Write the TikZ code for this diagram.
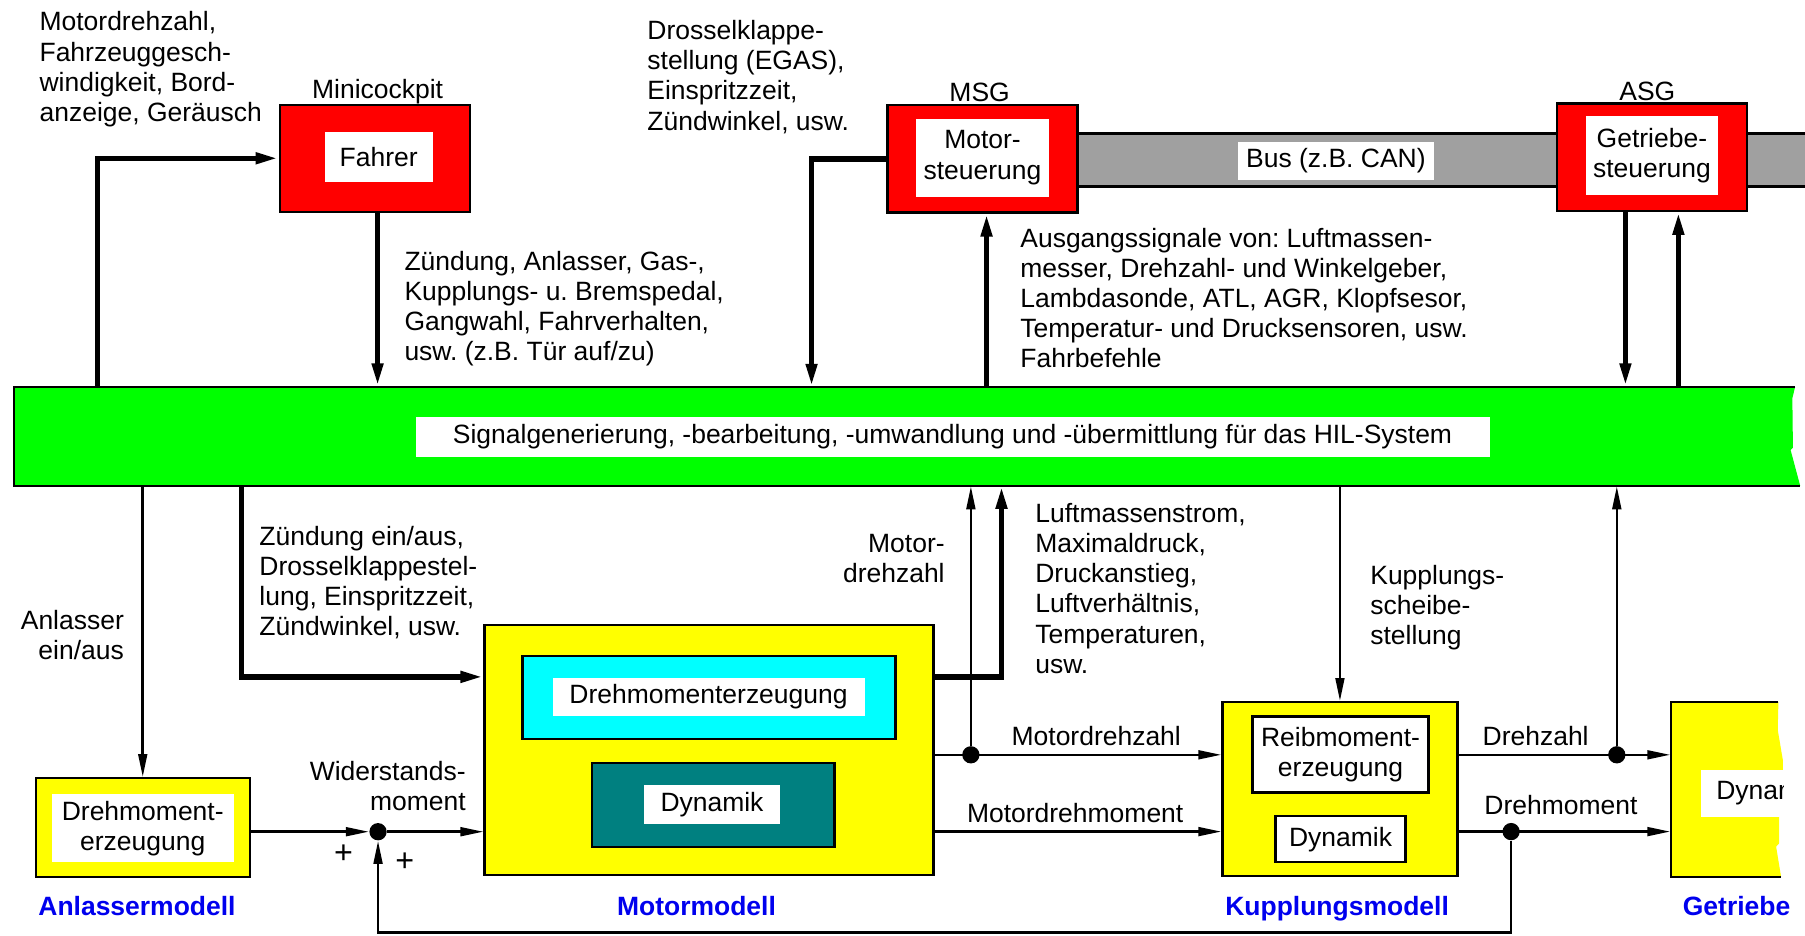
\documentclass[tikz,border=0pt]{standalone}
\usepackage{fontspec}
\setmainfont{Liberation Sans}
\usetikzlibrary{arrows.meta}
\frenchspacing

\definecolor{ctrlred}{RGB}{255,0,0}
\definecolor{modelyellow}{RGB}{255,255,0}
\definecolor{hilgreen}{RGB}{0,255,0}
\definecolor{gencyan}{RGB}{0,255,255}
\definecolor{dynteal}{RGB}{0,128,128}
\definecolor{busgray}{RGB}{160,160,160}
\definecolor{titleblue}{RGB}{0,0,238}

\tikzset{
  every node/.style={font=\fontsize{11.5}{13.1}\selectfont, inner sep=0pt},
  ctrlbox/.style={draw, line width=1pt, fill=ctrlred, minimum width=82.5pt, minimum height=46.5pt},
  modelbox/.style={draw, line width=1pt, fill=modelyellow},
  lbl/.style={fill=white, align=center},
  modeltitle/.style={font=\fontsize{11.5}{13.1}\selectfont\bfseries, text=titleblue, anchor=base},
  dot/.style={circle, fill, minimum size=7.5pt},
  sig/.style={line width=1.1pt, -{Triangle[length=10pt,width=3.8pt]}},
  bigsig/.style={line width=2.3pt, -{Triangle[length=10pt,width=4.6pt]}}
}

\begin{document}
\begin{tikzpicture}[x=0.5pt, y=-0.5pt]
    \useasboundingbox (0,0) rectangle (1568,813);

    % bus
    \fill[busgray] (936,116) rectangle (1568,162);
    \draw[line width=1pt] (936,116) -- (1568,116) (936,162) -- (1568,162);
    \node[lbl, minimum width=85.5pt, minimum height=16.5pt] (buslbl) at (1160.5,139.5) {Bus (z.B. CAN)};

    % controllers
    \node[ctrlbox] (fahrer) at (325.5,137.5) {};
    \node[lbl, minimum width=47pt, minimum height=21.5pt] at (329,136.5) {Fahrer};
    \node at (328,80) {Minicockpit};
    \node[ctrlbox] (msg) at (853.5,138) {};
    \node[lbl, minimum width=57.5pt, minimum height=34pt] at (853.5,137) {Motor-\\steuerung};
    \node at (851,80) {MSG};
    \node[ctrlbox] (asg) at (1435,136.5) {};
    \node[lbl, minimum width=57pt, minimum height=34pt] at (1435,135) {Getriebe-\\steuerung};
    \node at (1431,79) {ASG};

    % HIL bar, torn off at the right
    \fill[hilgreen] (12,336) -- (1559.4,336) -- (1557,346) -- (1557.5,389) -- (1555.5,391)
        -- (1563.8,422) -- (12,422) -- cycle;
    \draw[line width=1pt] (1559.4,336) -- (12,336) -- (12,422) -- (1563.8,422);
    \node[minimum width=775pt, minimum height=43pt] (hil) at (787,379) {};
    \node[lbl, minimum width=466.5pt, minimum height=17.5pt] (hillbl) at (827.5,379.5)
        {Signalgenerierung, -bearbeitung, -umwandlung und -übermittlung für das HIL-System};

    % models
    \node[modelbox, minimum width=93pt, minimum height=43pt] (anl) at (124,719) {};
    \node[lbl, minimum width=79pt, minimum height=29.5pt] at (124,719.5) {Drehmoment-\\erzeugung};
    \node[modelbox, minimum width=195pt, minimum height=108.5pt] (motor) at (616,651.5) {};
    \node[draw, line width=1pt, fill=gencyan, minimum width=162pt, minimum height=36pt] (gen) at (616,606) {};
    \node[lbl, minimum width=135.5pt, minimum height=16.5pt] at (615.5,605.5) {Drehmomenterzeugung};
    \node[draw, line width=1pt, fill=dynteal, minimum width=105.5pt, minimum height=36.5pt] (dyn) at (619.5,699.5) {};
    \node[lbl, minimum width=59.5pt, minimum height=17pt] at (618.5,699) {Dynamik};
    \node[modelbox, minimum width=102pt, minimum height=75.5pt] (kup) at (1164,685.5) {};
    \node[lbl, draw, line width=1pt, minimum width=76.5pt, minimum height=33pt] (reib) at (1164.5,655.5) {Reibmoment-\\erzeugung};
    \node[lbl, draw, line width=1pt, minimum width=56.5pt, minimum height=20pt] (kdyn) at (1164.5,729) {Dynamik};

    % gearbox model, cut at the right
    \fill[modelyellow] (1451.4,609.6) -- (1544.9,609.6) -- (1544.3,634) -- (1548.7,660) -- (1548.7,709.4)
        -- (1545.5,709.4) -- (1545.5,732.6) -- (1542.9,735.5) -- (1547.2,761.6) -- (1451.4,761.6) -- cycle;
    \draw[line width=1pt] (1544.9,609.6) -- (1451.4,609.6) -- (1451.4,761.6) -- (1547.2,761.6);
    \node[minimum width=46.6pt, minimum height=76pt] (getr) at (1498,685.6) {};
    \begin{scope}
        \clip (1440,600) rectangle (1549.5,800);
        \fill[white] (1477.3,668.9) rectangle (1560,709.4);
        \node[anchor=west] at (1490.5,689) {Dynamik};
    \end{scope}

    \node[modeltitle] at (119,795) {Anlassermodell};
    \node[modeltitle] at (605,795) {Motormodell};
    \node[modeltitle] at (1161.5,795) {Kupplungsmodell};
    \node[modeltitle, anchor=base west] at (1461.5,795) {Getriebe};

    % signal texts
    \node[anchor=north west, align=left] (txcock) at (34,9.8) {Motordrehzahl,\\Fahrzeuggesch-\\windigkeit, Bord-\\anzeige, Geräusch};
    \node[anchor=north west, align=left] (txdriver) at (351,217.8) {Zündung, Anlasser, Gas-,\\Kupplungs- u. Bremspedal,\\Gangwahl, Fahrverhalten,\\usw. (z.B. Tür auf/zu)};
    \node[anchor=north west, align=left] (txmsg) at (562,17.3) {Drosselklappe-\\stellung (EGAS),\\Einspritzzeit,\\Zündwinkel, usw.};
    \node[anchor=north west, align=left] (txsens) at (886,197.8) {Ausgangssignale von: Luftmassen-\\messer, Drehzahl- und Winkelgeber,\\Lambdasonde, ATL, AGR, Klopfsesor,\\Temperatur- und Drucksensoren, usw.\\Fahrbefehle};
    \node[anchor=north west, align=left] (txign) at (225,456.8) {Zündung ein/aus,\\Drosselklappestel-\\lung, Einspritzzeit,\\Zündwinkel, usw.};
    \node[anchor=north east, align=right] (txstart) at (108,529.8) {Anlasser\\ein/aus};
    \node[anchor=north east, align=right] (txload) at (405,660.8) {Widerstands-\\moment};
    \node[anchor=north east, align=right] (txrpm) at (821,463.8) {Motor-\\drehzahl};
    \node[anchor=north west, align=left] (txair) at (899,436.8) {Luftmassenstrom,\\Maximaldruck,\\Druckanstieg,\\Luftverhältnis,\\Temperaturen,\\usw.};
    \node[anchor=north west, align=left] (txclutch) at (1190,490.4) {Kupplungs-\\scheibe-\\stellung};

    % junctions
    \node[dot] (sum) at (328.4,722.5) {};
    \node[dot] (dz) at (843.4,655.7) {};
    \node[dot] (gz) at (1404.5,655.7) {};
    \node[dot] (dm) at (1312.7,722.4) {};
    \node[font=\fontsize{14}{15}\selectfont] at (298.5,742) {+};
    \node[font=\fontsize{14}{15}\selectfont] at (351.7,748.6) {+};

    % upper connectors
    \coordinate (k1) at (85,336);
    \coordinate (k3) at (705,336);
    \coordinate (f1) at ([xshift=1.25pt]fahrer.south);
    \coordinate (m1) at ([xshift=1.75pt]msg.south);
    \coordinate (a1) at ([xshift=-11.5pt]asg.south);
    \coordinate (a2) at ([xshift=11.5pt]asg.south);
    \draw[bigsig] (k1) |- (fahrer.west);
    \draw[bigsig] (f1) -- (f1 |- hil.north);
    \draw[bigsig] (msg.west) -| (k3);
    \draw[bigsig] (m1 |- hil.north) -- (m1);
    \draw[bigsig] (a1) -- (a1 |- hil.north);
    \draw[bigsig] (a2 |- hil.north) -- (a2);

    % lower connectors
    \coordinate (k8) at (210,422);
    \coordinate (k13) at (870,422);
    \coordinate (m2) at ([yshift=31.75pt]motor.west);
    \coordinate (m3) at ([yshift=31.75pt]motor.east);
    \coordinate (fb) at (1312.7,810);
    \draw[sig] (anl.north |- hil.south) -- (anl.north);
    \draw[bigsig] (k8) |- (m2);
    \draw[sig] (anl.east |- sum) -- (sum);
    \draw[sig] (sum) -- (sum -| motor.west);
    \draw[sig] (dm) -- (fb) -| (sum);
    \draw[bigsig] (m3) -| (k13);
    \draw[sig] (dz) -- (dz |- hil.south);
    \draw[sig] (motor.east |- dz) -- (kup.west |- dz);
    \draw[sig] (motor.east |- dm) -- (kup.west |- dm);
    \draw[sig] (kup.north |- hil.south) -- (kup.north);
    \draw[sig] (kup.east |- gz) -- (getr.west |- gz);
    \draw[sig] (gz) -- (gz |- hil.south);
    \draw[sig] (kup.east |- dm) -- (getr.west |- dm);

    \node at (952.3,639) {Motordrehzahl};
    \node at (934,706) {Motordrehmoment};
    \node at (1334,639) {Drehzahl};
    \node at (1356,699) {Drehmoment};
\end{tikzpicture}
\end{document}
